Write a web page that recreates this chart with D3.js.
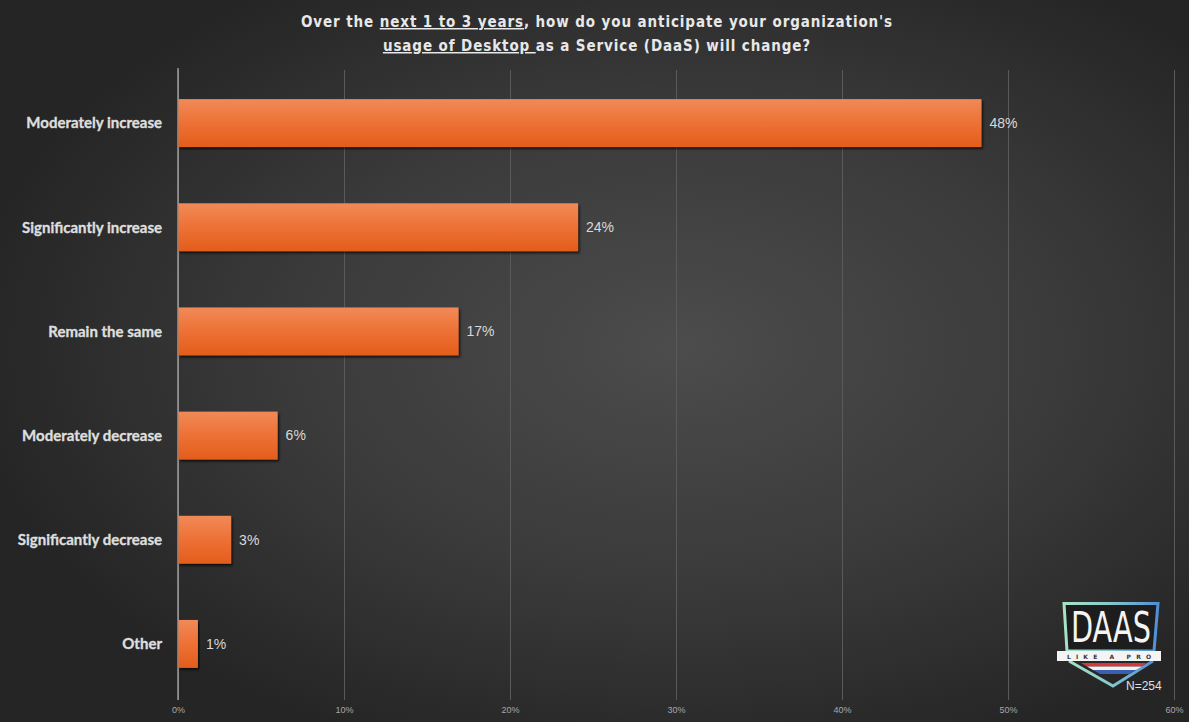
<!DOCTYPE html>
<html>
<head>
<meta charset="utf-8">
<script src="https://cdn.jsdelivr.net/npm/d3@7"></script>
<style>
  html, body { margin: 0; padding: 0; background: #2a2a2a; }
  svg { display: block; }
</style>
</head>
<body>
<svg id="chart" width="1189" height="722"></svg>
<script>
// Survey answers, shares of respondents
const categories = [
  "Moderately increase",
  "Significantly increase",
  "Remain the same",
  "Moderately decrease",
  "Significantly decrease",
  "Other"
];
const values = [0.484, 0.241, 0.169, 0.060, 0.032, 0.012];
const tickValues = [0, 0.1, 0.2, 0.3, 0.4, 0.5, 0.6];
const sampleLabel = "N=254";

const W = 1189, H = 722;
const svg = d3.select("#chart");
const defs = svg.append("defs");

// dark backdrop, lighter towards the middle
const bg = defs.append("radialGradient").attr("id", "bg")
  .attr("cx", "57%").attr("cy", "48%").attr("r", "60%");
bg.append("stop").attr("offset", "0%").attr("stop-color", "#4c4c4c");
bg.append("stop").attr("offset", "55%").attr("stop-color", "#3a3a3a");
bg.append("stop").attr("offset", "100%").attr("stop-color", "#252525");
svg.append("rect").attr("width", W).attr("height", H).attr("fill", "url(#bg)");

// orange bar fill
const barGrad = defs.append("linearGradient").attr("id", "barGrad")
  .attr("x1", 0).attr("y1", 0).attr("x2", 0).attr("y2", 1);
barGrad.append("stop").attr("offset", "0%").attr("stop-color", "#f08a58");
barGrad.append("stop").attr("offset", "45%").attr("stop-color", "#ee7338");
barGrad.append("stop").attr("offset", "100%").attr("stop-color", "#e35d1b");

const shadow = defs.append("filter").attr("id", "shadow")
  .attr("x", "-5%").attr("y", "-20%").attr("width", "115%").attr("height", "150%");
shadow.append("feDropShadow").attr("dx", 1.5).attr("dy", 2).attr("stdDeviation", 1.2)
  .attr("flood-color", "#000").attr("flood-opacity", 0.7);

const x = d3.scaleLinear().domain([0, 0.6]).range([178, 1174]);
const y = d3.scaleBand().domain(categories).range([71, 696])
  .paddingInner(0.54).paddingOuter(0.27);

// gridlines + percent ticks
const gridTop = 70, gridBottom = 700;
const xAxis = d3.axisBottom(x)
  .tickValues(tickValues)
  .tickFormat(d3.format(".0%"))
  .tickSize(-(gridBottom - gridTop))
  .tickPadding(7);
const gx = svg.append("g")
  .attr("transform", `translate(0,${gridBottom})`)
  .call(xAxis);
gx.select(".domain").remove();
gx.selectAll(".tick line").attr("stroke", "#5a5a5a").attr("stroke-width", 1);
gx.selectAll(".tick text")
  .attr("fill", "#a8a8a8")
  .attr("font-family", "'Liberation Sans', Arial, sans-serif")
  .attr("font-size", 9);

// baseline at zero
svg.append("line")
  .attr("x1", x(0)).attr("x2", x(0))
  .attr("y1", gridTop - 2).attr("y2", gridBottom)
  .attr("stroke", "#b5b5b5").attr("stroke-width", 1.2);

// bars
svg.append("g").selectAll("rect")
  .data(categories)
  .join("rect")
  .attr("x", x(0) + 0.5)
  .attr("y", d => y(d))
  .attr("width", (d, i) => x(values[i]) - x(0) - 0.5)
  .attr("height", y.bandwidth())
  .attr("fill", "url(#barGrad)")
  .attr("filter", "url(#shadow)");

// value labels
svg.append("g").selectAll("text")
  .data(categories)
  .join("text")
  .attr("x", (d, i) => x(values[i]) + 8)
  .attr("y", d => y(d) + y.bandwidth() / 2)
  .attr("dy", "0.35em")
  .attr("fill", "#d9d9d9")
  .attr("font-family", "'Liberation Sans', Arial, sans-serif")
  .attr("font-size", 14)
  .text((d, i) => d3.format(".0%")(values[i]));

// category labels
svg.append("g").selectAll("text")
  .data(categories)
  .join("text")
  .attr("x", 162)
  .attr("y", d => y(d) + y.bandwidth() / 2)
  .attr("dy", "0.35em")
  .attr("text-anchor", "end")
  .attr("fill", "#dedede")
  .attr("stroke", "#dedede")
  .attr("stroke-width", 0.35)
  .attr("font-family", "Lato, 'Open Sans', sans-serif")
  .attr("font-weight", "bold")
  .attr("font-size", 15)
  .text(d => d);

// title, two centred lines with underlined phrases
const titleLines = [
  [["Over the ", false], ["next 1 to 3 years", true], [", how do you anticipate your organization's", false]],
  [["usage of Desktop ", true], ["as a Service (DaaS) will change?", false]]
];
const title = svg.append("text")
  .attr("text-anchor", "middle")
  .attr("fill", "#e8e8e8")
  .attr("font-family", "'DejaVu Sans Condensed', 'DejaVu Sans', sans-serif")
  .attr("font-weight", "bold")
  .attr("font-size", 15)
  .attr("letter-spacing", 0.9);
titleLines.forEach((line, li) => {
  line.forEach(([txt, under], pi) => {
    const ts = title.append("tspan").text(txt);
    if (pi === 0) ts.attr("x", 597).attr("y", li === 0 ? 27 : 51);
    if (under) ts.attr("text-decoration", "underline");
  });
});

// badge in the lower right corner
const logo = svg.append("g").attr("transform", "translate(1108,0)");
const rim = defs.append("linearGradient").attr("id", "rim")
  .attr("x1", 0).attr("y1", 0).attr("x2", 1).attr("y2", 0);
rim.append("stop").attr("offset", "0%").attr("stop-color", "#a6e3c6");
rim.append("stop").attr("offset", "50%").attr("stop-color", "#86c8cc");
rim.append("stop").attr("offset", "100%").attr("stop-color", "#4f8fd6");

logo.append("path")
  .attr("d", "M-44,603.5 L50,603.5 L46,651 L-41,651 Z")
  .attr("fill", "#1d1d1d").attr("stroke", "url(#rim)").attr("stroke-width", 3);
logo.append("path")
  .attr("d", "M-39,661 L5,686 L45,661")
  .attr("fill", "none").attr("stroke", "url(#rim)").attr("stroke-width", 3);
// stripes
logo.append("path").attr("d", "M-27,663 L38,663 L34,666.5 L-21,666.5 Z").attr("fill", "#d23a3a");
logo.append("path").attr("d", "M-21,666.5 L34,666.5 L28,670 L-15,670 Z").attr("fill", "#f2f2f2");
logo.append("path").attr("d", "M-15,670 L28,670 L22,674 L-8,674 Z").attr("fill", "#3a5fb0");
logo.append("text")
  .attr("x", 3).attr("y", 642)
  .attr("text-anchor", "middle")
  .attr("fill", "#f4f4f4")
  .attr("font-family", "'DejaVu Sans Condensed', 'Liberation Sans Narrow', sans-serif")
  .attr("font-size", 42)
  .attr("textLength", 80).attr("lengthAdjust", "spacingAndGlyphs")
  .text("DAAS");
logo.append("rect")
  .attr("x", -51).attr("y", 651).attr("width", 104).attr("height", 10)
  .attr("fill", "#f4f4f4");
logo.append("text")
  .attr("x", 1).attr("y", 659)
  .attr("text-anchor", "middle")
  .attr("fill", "#333")
  .attr("font-family", "'DejaVu Sans', sans-serif")
  .attr("font-weight", "bold")
  .attr("font-size", 6)
  .attr("textLength", 84).attr("lengthAdjust", "spacing")
  .text("LIKE A PRO");

svg.append("text")
  .attr("x", 1126).attr("y", 690)
  .attr("fill", "#e0e0e0")
  .attr("font-family", "'Liberation Sans', Arial, sans-serif")
  .attr("font-size", 12)
  .text(sampleLabel);
</script>
</body>
</html>
